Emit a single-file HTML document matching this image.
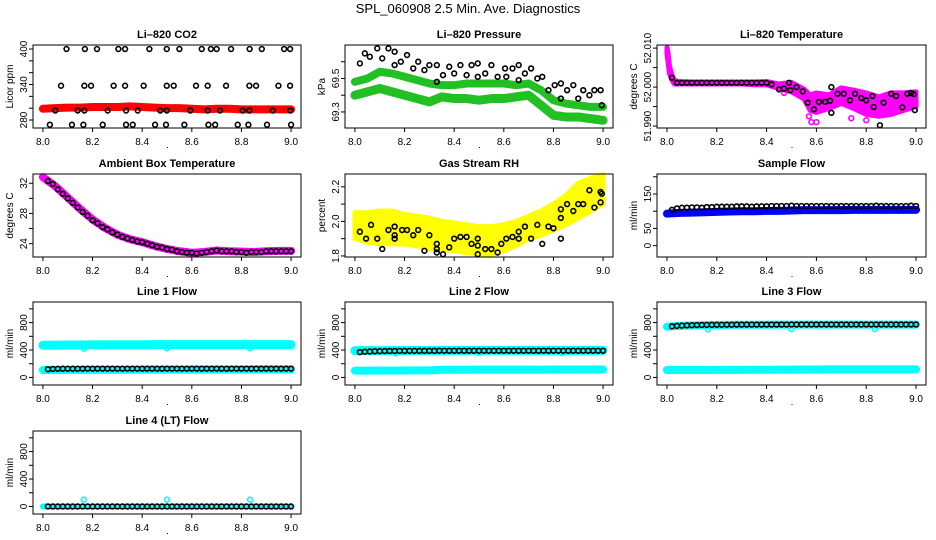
<!DOCTYPE html>
<html><head><meta charset="utf-8"><style>
html,body{margin:0;padding:0;background:#fff;}
svg{display:block;font-family:"Liberation Sans",sans-serif;}
</style></head><body>
<svg id="chart" width="936" height="540" viewBox="0 0 936 540">
<text x="468" y="13" text-anchor="middle" font-size="13">SPL_060908  2.5 Min. Ave. Diagnostics</text>
</svg>
<script>
// ---------- data ----------
const xTicks = [8.0, 8.2, 8.4, 8.6, 8.8, 9.0];
const xTickLabels = ["8.0","8.2","8.4","8.6","8.8","9.0"];
const bandX = [8.00,8.05,8.10,8.15,8.20,8.25,8.30,8.35,8.40,8.45,8.50,8.55,8.60,8.65,8.70,8.75,8.80,8.85,8.90,8.95,9.00];
const tGrid = [8.02,8.04,8.06,8.08,8.10,8.12,8.14,8.16,8.18,8.20,8.22,8.24,8.26,8.28,8.30,8.32,8.34,8.36,8.38,8.40,8.42,8.44,8.46,8.48,8.50,8.52,8.54,8.56,8.58,8.60,8.62,8.64,8.66,8.68,8.70,8.72,8.74,8.76,8.78,8.80,8.82,8.84,8.86,8.88,8.90,8.92,8.94,8.96,8.98,9.00];

// CO2
const co2Red = [299,300,301,301,302,302,302,303,302,301,300,300,299,298,299,299,298,298,298,298,298];
const co2BlackX = [8.095,8.169,8.218,8.304,8.331,8.429,8.499,8.550,8.640,8.677,8.700,8.758,8.833,8.882,8.972,8.996,
 8.073,8.167,8.194,8.285,8.331,8.406,8.499,8.527,8.617,8.664,8.738,8.832,8.859,8.949,8.996,
 8.050,8.140,8.167,8.261,8.335,8.382,8.473,8.499,8.594,8.664,8.714,8.805,8.832,8.926,8.997,
 8.028,8.117,8.163,8.241,8.335,8.362,8.452,8.496,8.570,8.667,8.694,8.785,8.828,8.903,9.000];
const co2BlackY = [400,400,400,400,400,400,400,400,400,400,400,400,400,400,400,400,
 338,338,338,338,338,338,338,338,338,338,338,338,338,338,338,
 296,296,296,296,296,296,296,296,296,296,296,296,296,296,296,
 272,272,272,272,272,272,272,272,272,272,272,272,272,272,272];

// Pressure
const presUpper = [69.48,69.50,69.54,69.53,69.51,69.49,69.47,69.46,69.46,69.47,69.47,69.47,69.47,69.46,69.47,69.43,69.37,69.35,69.34,69.33,69.33];
const presLower = [69.40,69.42,69.44,69.42,69.40,69.38,69.36,69.39,69.38,69.38,69.37,69.38,69.38,69.39,69.40,69.34,69.28,69.27,69.27,69.26,69.25];
const presBlackX = [8.02,8.04,8.06,8.09,8.11,8.135,8.16,8.16,8.185,8.21,8.235,8.255,8.28,8.30,8.33,8.33,8.355,8.38,8.40,8.425,8.45,8.47,8.495,8.495,8.525,8.55,8.575,8.605,8.61,8.635,8.66,8.66,8.685,8.71,8.735,8.755,8.78,8.805,8.83,8.83,8.855,8.88,8.90,8.92,8.945,8.965,8.99,8.995];
const presBlackY = [69.59,69.65,69.63,69.68,69.62,69.68,69.66,69.58,69.60,69.64,69.56,69.60,69.55,69.58,69.58,69.48,69.52,69.57,69.53,69.58,69.52,69.58,69.59,69.51,69.53,69.58,69.51,69.56,69.51,69.56,69.58,69.49,69.53,69.56,69.50,69.51,69.43,69.46,69.47,69.38,69.43,69.46,69.38,69.43,69.40,69.43,69.43,69.34];

// Li-820 temperature
const tempBandX = [8.000,8.005,8.010,8.020,8.030,8.050,8.100,8.150,8.200,8.250,8.300,8.350,8.400,8.450,8.500,8.550,8.575,8.600,8.650,8.700,8.750,8.800,8.850,8.900,8.950,9.000];
const tempHi = [52.0102,52.0085,52.0055,52.0030,52.0017,52.0014,52.0013,52.0013,52.0013,52.0013,52.0013,52.0013,52.0014,52.0008,52.0012,51.9995,51.9980,51.9985,51.9980,51.9998,51.9992,51.9985,51.9975,51.9985,51.9985,51.9988];
const tempLo = [52.0085,52.0060,52.0035,52.0018,52.0008,52.0008,52.0008,52.0008,52.0008,52.0008,52.0008,52.0006,52.0006,51.9996,51.9988,51.9970,51.9940,51.9935,51.9945,51.9958,51.9945,51.9930,51.9925,51.9930,51.9940,51.9950];
const tempOutX = [8.47,8.58,8.60,8.74,8.80,8.57];
const tempOutY = [51.9985,51.9910,51.9910,51.9920,51.9915,51.9925];
const tempBlackX = [8.02,8.04,8.06,8.08,8.10,8.12,8.14,8.16,8.18,8.20,8.22,8.24,8.26,8.28,8.30,8.32,8.34,8.36,8.38,8.40,
 8.42,8.45,8.47,8.49,8.495,8.52,8.545,8.565,8.59,8.61,8.635,8.655,8.66,8.66,8.685,8.71,8.735,8.755,8.78,8.80,8.825,8.83,8.855,8.87,8.90,8.92,8.945,8.965,8.98,8.99,8.995];
const tempBlackY = [52.0024,52.0011,52.0011,52.0011,52.0011,52.0011,52.0011,52.0011,52.0011,52.0011,52.0011,52.0011,52.0011,52.0011,52.0011,52.0011,52.0011,52.0011,52.0011,52.0011,
 52.0007,51.9994,51.9996,52.0011,51.9992,52.0000,51.9989,51.9960,51.9943,51.9962,51.9962,51.9965,52.0000,51.9934,51.9983,51.9983,51.9966,51.9983,51.9972,51.9966,51.9977,51.9949,51.9902,51.9960,51.9983,51.9977,51.9948,51.9983,51.9985,51.9982,51.9941];

// Ambient box temperature
const ambBand = [32.8,31.6,30.1,28.6,27.2,26.1,25.2,24.6,24.2,23.7,23.3,23.0,22.8,22.9,23.1,23.0,22.95,22.9,23.0,23.05,23.05];
const ambBlack = [32.3,31.9,31.2,30.6,30.0,29.4,28.8,28.2,27.7,27.1,26.7,26.2,25.9,25.5,25.2,24.9,24.7,24.5,24.3,24.2,24.0,23.8,23.6,23.5,23.3,23.2,23.0,22.9,22.8,22.8,22.7,22.8,22.9,23.0,23.1,23.0,23.0,23.0,22.9,22.9,22.8,22.9,22.9,22.9,23.0,23.0,23.0,23.0,23.0,23.0];

// Gas stream RH
const rhUpper = [2.05,2.05,2.06,2.06,2.04,2.03,2.02,2.00,1.99,1.98,1.97,1.97,1.98,2.00,2.03,2.06,2.10,2.15,2.22,2.25,2.27];
const rhLower = [1.90,1.88,1.87,1.87,1.87,1.86,1.84,1.84,1.83,1.82,1.81,1.81,1.83,1.86,1.90,1.92,1.95,1.98,2.02,2.06,2.10];
const rhBlackX = [8.02,8.045,8.065,8.09,8.11,8.135,8.16,8.16,8.16,8.19,8.21,8.235,8.255,8.28,8.30,8.33,8.33,8.33,8.355,8.38,8.40,8.425,8.45,8.47,8.495,8.495,8.495,8.525,8.55,8.575,8.59,8.61,8.635,8.66,8.66,8.685,8.71,8.735,8.755,8.78,8.80,8.83,8.83,8.83,8.855,8.88,8.90,8.92,8.945,8.965,8.99,8.99,8.995];
const rhBlackY = [1.94,1.90,1.98,1.90,1.84,1.95,1.97,1.92,1.90,1.95,1.95,1.92,1.95,1.83,1.92,1.87,1.84,1.82,1.81,1.85,1.90,1.91,1.91,1.87,1.86,1.81,1.90,1.84,1.84,1.82,1.87,1.90,1.91,1.94,1.90,1.97,1.90,1.98,1.87,1.97,1.96,2.07,2.02,1.90,2.10,2.06,2.10,2.10,2.18,2.08,2.17,2.11,2.16];

// Sample flow
const sampleBlue = [93,95,96,97,98,99,100,100,101,101,102,103,103,103,103,104,104,104,104,104,104];
const sampleBlack = [104,108,110,110,111,111,110,112,112,113,113,113,113,114,114,114,113,114,114,114,115,115,115,115,116,115,115,115,115,115,115,115,115,115,115,115,115,115,115,115,115,116,115,115,115,115,115,115,116,115];

// Line flows
const dipX = [8.165, 8.50, 8.835];
const line1Hi = [470,472,473,474,475,476,476,477,477,478,478,478,478,478,478,478,478,478,478,478,478];
const line1Lo = [108,110,110,111,112,112,113,113,114,114,115,115,115,116,116,116,116,117,117,117,117];
const line1Dip = [420,425,425];
const line1Black = [120,124,126,127,127,127,127,128,128,128,128,128,128,128,128,128,128,128,128,128,128,128,128,128,128,128,128,128,128,128,128,128,128,128,128,128,128,128,128,128,128,128,128,128,128,128,128,128,128,128];
const line2Hi = [390,391,392,392,393,393,393,394,394,394,394,395,395,395,395,395,395,395,395,395,395];
const line2Lo = [100,100,101,101,102,103,104,112,113,113,114,114,115,115,115,115,116,116,116,116,116];
const line2Dip = [350,355,355];
const line2Black = [370,375,379,382,384,385,386,386,387,387,387,388,388,388,388,388,389,389,389,389,389,389,389,389,389,389,389,389,389,389,389,389,389,389,389,389,389,389,389,389,389,389,389,389,389,389,389,389,389,389];
const line3Hi = [740,752,758,762,765,767,768,769,769,770,770,770,770,770,770,770,770,770,770,770,770];
const line3Lo = [108,108,109,109,110,110,110,112,113,114,115,116,116,117,117,118,118,118,118,118,118];
const line3Dip = [700,705,705];
const line3Black = [745,752,756,760,762,764,765,766,767,768,768,769,769,770,770,770,770,770,771,771,771,771,771,771,772,772,772,772,772,772,772,772,772,772,772,772,772,772,772,772,772,772,772,772,772,772,772,772,772,772];
const line4Cyan = [0,0,0,0,0,0,0,0,0,0,0,0,0,0,0,0,0,0,0,0,0];
const line4Dip = [100,100,100];
const line4Black = [0,0,0,0,0,0,0,0,0,0,0,0,0,0,0,0,0,0,0,0,0,0,0,0,0,0,0,0,0,0,0,0,0,0,0,0,0,0,0,0,0,0,0,0,0,0,0,0,0,0];

// ---------- drawing ----------
const NS = "http://www.w3.org/2000/svg";
const svg = document.getElementById("chart");
const colBox = [[33,301],[345,613],[657,926]];
const rowTop = [45,174,302,431];
const BOXH = 83;

function mk(tag, attrs, parent){
  const e = document.createElementNS(NS, tag);
  for (const k in attrs) e.setAttribute(k, attrs[k]);
  (parent || svg).appendChild(e);
  return e;
}

function panel(key, col, row, title, ylab, yTop, yBot, yTicks, yLabels){
  const L = colBox[col][0], R = colBox[col][1], T = rowTop[row], B = T + BOXH;
  const W = R - L;
  const g = mk("g", {});
  
  
  const sx = v => L + (v - 7.96) / 1.08 * W;
  const sy = v => T + (yTop - v) / (yTop - yBot) * BOXH;
  const tt = mk("text", {x:(L+R)/2, y:T-7, "text-anchor":"middle", "font-size":"11", "font-weight":"bold"}, g);
  tt.textContent = title;
  
  
  const plot = mk("g", {}, g);
  
  
  const box = mk("rect", {x:L, y:T, width:W, height:BOXH, fill:"none", stroke:"#000", "stroke-width":"1"}, g);
  
  
  const xa = mk("g", {}, g);
  
  
  xTicks.forEach((v, i) => {
    mk("line", {x1:sx(v), x2:sx(v), y1:B, y2:B+4, stroke:"#000"}, xa);
    const t = mk("text", {x:sx(v), y:B+17, "text-anchor":"middle", "font-size":"10"}, xa);
    t.textContent = xTickLabels[i];
  });
  mk("rect", {x:(L+R)/2, y:B+19, width:1, height:1, fill:"#000"}, xa);
  const ya = mk("g", {}, g);
  
  
  yTicks.forEach(v => mk("line", {x1:L-4, x2:L, y1:sy(v), y2:sy(v), stroke:"#000"}, ya));
  yLabels.forEach(lb => {
    const t = mk("text", {x:0, y:0, "text-anchor":"middle", "font-size":"10",
      transform:`translate(${L-6},${sy(lb[0])}) rotate(-90)`}, ya);
    t.textContent = lb[1];
  });
  const yt = mk("text", {x:0, y:0, "text-anchor":"middle", "font-size":"10",
    transform:`translate(${L-20},${(T+B)/2}) rotate(-90)`}, g);
  yt.textContent = ylab;
  
  
  return {sx, sy, plot, L, R, T, B};
}

function band(p, xs, ys, color, width, name){
  const pts = xs.map((x,i)=> i<ys.length ? p.sx(x)+","+p.sy(ys[i]) : null).filter(Boolean).join(" ");
  const e = mk("polyline", {points:pts, fill:"none", stroke:color, "stroke-width":width, "stroke-linejoin":"round", "stroke-linecap":"round"}, p.plot);
  
  
}
function area(p, xs, hi, lo, color, name){
  const up = xs.map((x,i)=>p.sx(x)+","+p.sy(hi[i]));
  const dn = xs.map((x,i)=>p.sx(x)+","+p.sy(lo[i])).reverse();
  const e = mk("polygon", {points:up.concat(dn).join(" "), fill:color, stroke:color, "stroke-width":"5", "stroke-linejoin":"round"}, p.plot);
  
  
}
function points(p, xs, ys, color, name){
  const g = mk("g", {}, p.plot);
  
  
  const n = Math.min(xs.length, ys.length);
  for (let i=0;i<n;i++){
    mk("circle", {cx:p.sx(xs[i]), cy:p.sy(ys[i]), r:2.4, fill:"none", stroke:color, "stroke-width":"1.6"}, g);
  }
}

// CO2
let p = panel("co2", 0, 0, "Li\u2013820 CO2", "Licor ppm", 406.8, 266.5,
  [280,300,320,340,360,380,400], [[280,"280"],[340,"340"],[400,"400"]]);
band(p, bandX, co2Red, "#ff0000", 8, "co2-red-series");
points(p, co2BlackX, co2BlackY, "#000", "co2-black-points");

// Pressure
p = panel("pressure", 1, 0, "Li\u2013820 Pressure", "kPa", 69.70, 69.204,
  [69.3,69.4,69.5,69.6], [[69.3,"69.3"],[69.5,"69.5"]]);
band(p, bandX, presUpper, "#22c022", 8, "pressure-green-upper");
band(p, bandX, presLower, "#22c022", 9, "pressure-green-lower");
points(p, presBlackX, presBlackY, "#000", "pressure-black-points");

// Li-820 temperature
p = panel("li820-temp", 2, 0, "Li\u2013820 Temperature", "degrees C", 52.0108, 51.9895,
  [51.990,51.995,52.000,52.005,52.010], [[51.990,"51.990"],[52.000,"52.000"],[52.010,"52.010"]]);
area(p, tempBandX, tempHi, tempLo, "#ff00ff", "temp-magenta-band");
points(p, tempOutX, tempOutY, "#ff00ff", "temp-magenta-outliers");
points(p, tempBlackX, tempBlackY, "#000", "temp-black-points");

// Ambient
p = panel("ambient", 0, 1, "Ambient Box Temperature", "degrees C", 33.22, 22.24,
  [24,26,28,30,32], [[24,"24"],[28,"28"],[32,"32"]]);
band(p, bandX, ambBand, "#ff00ff", 8, "ambient-magenta-series");
points(p, tGrid, ambBlack, "#000", "ambient-black-points");

// RH
p = panel("rh", 1, 1, "Gas Stream RH", "percent", 2.274, 1.794,
  [1.8,1.9,2.0,2.1,2.2], [[1.8,"1.8"],[2.0,"2.0"],[2.2,"2.2"]]);
area(p, bandX, rhUpper, rhLower, "#ffff00", "rh-yellow-band");
points(p, rhBlackX, rhBlackY, "#000", "rh-black-points");

// Sample flow
p = panel("sample-flow", 2, 1, "Sample Flow", "ml/min", 208, -33,
  [0,50,100,150,200], [[0,"0"],[50,"50"],[150,"150"]]);
band(p, bandX, sampleBlue, "#0000ff", 8, "sample-blue-series");
points(p, tGrid, sampleBlack, "#000", "sample-black-points");

const flowTicks = [0,200,400,600,800,1000];
const flowLabels = [[0,"0"],[400,"400"],[800,"800"]];
// Line 1
p = panel("line1", 0, 2, "Line 1 Flow", "ml/min", 1100, -110, flowTicks, flowLabels);
band(p, bandX, line1Hi, "#00ffff", 9, "line1-cyan-upper");
band(p, bandX, line1Lo, "#00ffff", 8, "line1-cyan-lower");
points(p, dipX, line1Dip, "#00ffff", "line1-cyan-dips");
points(p, tGrid, line1Black, "#000", "line1-black-points");
// Line 2
p = panel("line2", 1, 2, "Line 2 Flow", "ml/min", 1100, -110, flowTicks, flowLabels);
band(p, bandX, line2Hi, "#00ffff", 9, "line2-cyan-upper");
band(p, bandX, line2Lo, "#00ffff", 8, "line2-cyan-lower");
points(p, dipX, line2Dip, "#00ffff", "line2-cyan-dips");
points(p, tGrid, line2Black, "#000", "line2-black-points");
// Line 3
p = panel("line3", 2, 2, "Line 3 Flow", "ml/min", 1100, -110, flowTicks, flowLabels);
band(p, bandX, line3Hi, "#00ffff", 8, "line3-cyan-upper");
band(p, bandX, line3Lo, "#00ffff", 8, "line3-cyan-lower");
points(p, dipX, line3Dip, "#00ffff", "line3-cyan-dips");
points(p, tGrid, line3Black, "#000", "line3-black-points");
// Line 4
p = panel("line4", 0, 3, "Line 4 (LT) Flow", "ml/min", 1100, -110, flowTicks, flowLabels);
band(p, bandX, line4Cyan, "#00ffff", 6, "line4-cyan-series");
points(p, dipX, line4Dip, "#00ffff", "line4-cyan-outliers");
points(p, tGrid, line4Black, "#000", "line4-black-points");
</script>
</body></html>
